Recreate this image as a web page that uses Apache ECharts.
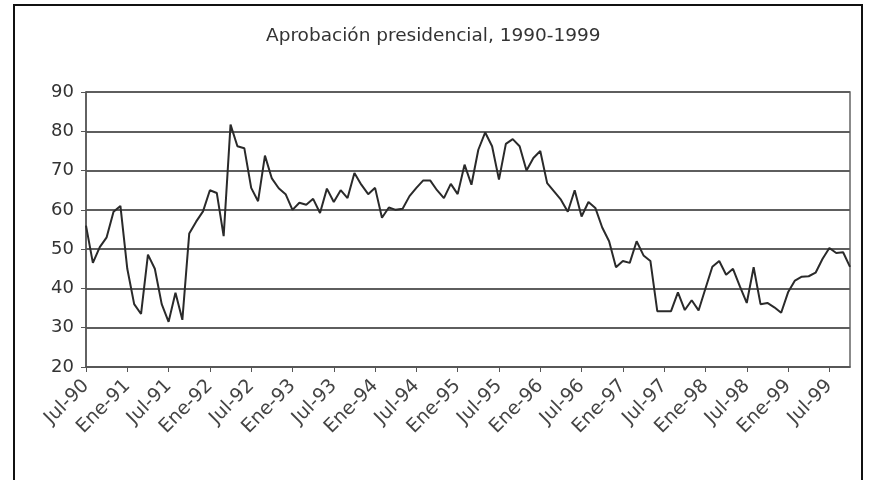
<!DOCTYPE html>
<html>
<head>
<meta charset="utf-8">
<script src="https://cdn.jsdelivr.net/npm/echarts@6/dist/echarts.min.js"></script>
<style>
html,body{margin:0;padding:0;background:#fff;}
#chart{width:871px;height:480px;}
</style>
</head>
<body>
<div id="chart"></div>
<script>
// Spanish month abbreviations used for the category labels
const monthNames = ['Ene','Feb','Mar','Abr','May','Jun','Jul','Ago','Sep','Oct','Nov','Dic'];
const startYear = 1990, startMonth = 6; // Jul-90
const pointCount = 112; // Jul-90 .. Oct-99

// Monthly presidential approval (%)
const approval = [
  56, 46.5, 50.5, 53, 59.5, 61, 45, 36, 33.5, 48.6,
  45, 36, 31.5, 38.9, 32, 54, 57, 59.6, 65, 64.3,
  53.3, 81.7, 76.2, 75.7, 65.6, 62.2, 73.8, 68, 65.5, 64,
  60, 61.8, 61.3, 62.8, 59.2, 65.4, 62, 65, 63, 69.4,
  66.4, 64, 65.6, 58, 60.6, 60, 60.3, 63.5, 65.6, 67.5,
  67.5, 65, 63, 66.6, 64, 71.5, 66.4, 75.3, 79.7, 76.2,
  67.7, 76.8, 78, 76.2, 70, 73.2, 75, 66.8, 64.7, 62.6,
  59.5, 65, 58.3, 62, 60.5, 55.5, 52, 45.4, 47, 46.5,
  52, 48.4, 47, 34.2, 34.2, 34.2, 39, 34.5, 37, 34.4,
  40, 45.5, 47, 43.5, 45, 40.5, 36.3, 45.4, 36, 36.3,
  35.2, 33.8, 39, 42, 43, 43.1, 44, 47.5, 50.3, 49,
  49.2, 45.5
];

const yTicks = {min: 20, max: 90, step: 10};
const titleText = 'Aprobación presidencial, 1990-1999';

const categories = [];
for (let i = 0; i < pointCount; i++) {
  const m = (startMonth + i) % 12;
  const y = startYear + Math.floor((startMonth + i) / 12);
  categories.push(monthNames[m] + '-' + String(y).slice(2));
}

const chart = echarts.init(document.getElementById('chart'), null, {renderer: 'canvas'});
const font = '"DejaVu Sans", Verdana, sans-serif';
chart.setOption({
  backgroundColor: '#ffffff',
  animation: false,
  title: {
    text: titleText,
    left: 261,
    top: 22,
    textStyle: {fontSize: 18.5, fontWeight: 'normal', color: '#333', fontFamily: font}
  },
  graphic: [
    {type: 'rect', shape: {x: 14, y: 5, width: 848, height: 520},
     style: {fill: 'none', stroke: '#111', lineWidth: 2}, silent: true}
  ],
  grid: {left: 86, right: 21, top: 92, bottom: 113, show: true, borderColor: '#666', borderWidth: 1.5, backgroundColor: 'transparent'},
  xAxis: {
    type: 'category',
    data: categories,
    boundaryGap: false,
    axisLine: {show: true, lineStyle: {color: '#555', width: 1.5}},
    axisTick: {show: true, interval: 5, length: 5, lineStyle: {color: '#555', width: 1}},
    axisLabel: {interval: 5, rotate: 45, fontSize: 19, color: '#444', fontFamily: font, margin: 16},
    splitLine: {show: false}
  },
  yAxis: {
    type: 'value',
    min: yTicks.min, max: yTicks.max, interval: yTicks.step,
    axisLine: {show: true, lineStyle: {color: '#555', width: 1.5}},
    axisTick: {show: true, length: 5, lineStyle: {color: '#555'}},
    axisLabel: {fontSize: 18, color: '#333', fontFamily: font, margin: 12},
    splitLine: {show: true, lineStyle: {color: '#5e5e5e', width: 1.8}}
  },
  series: [{
    type: 'line',
    data: approval,
    symbol: 'none',
    smooth: false,
    lineStyle: {color: '#2a2a2a', width: 2}
  }]
});
</script>
</body>
</html>
